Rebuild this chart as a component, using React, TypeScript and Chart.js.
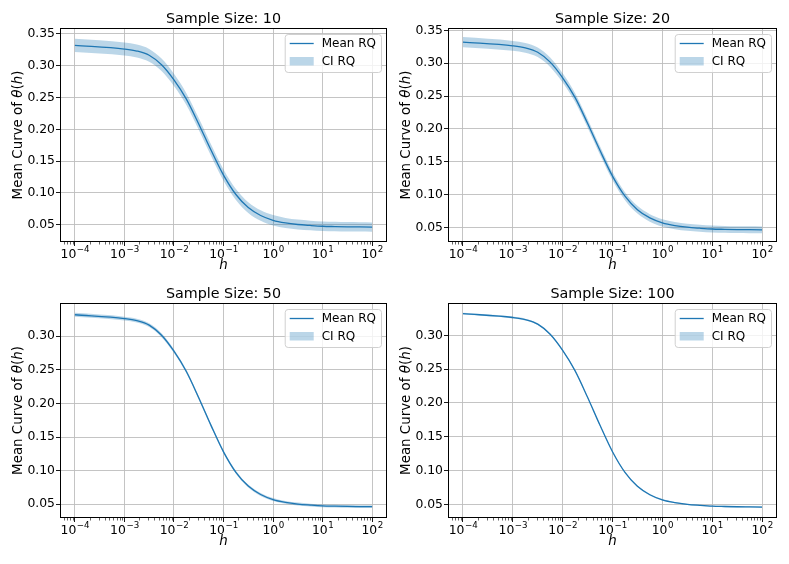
import React, { useEffect, useRef } from 'react';
import { Chart, registerables } from 'chart.js';

Chart.register(...registerables);

const FONT = '"DejaVu Sans", sans-serif';
Chart.defaults.font.family = FONT;

// bandwidth grid h (log spaced)
const hValues = [
  0.0001, 0.001, 0.00178, 0.00316, 0.00562, 0.01, 0.0178, 0.0316, 0.0562, 0.1, 0.178,
  0.316, 0.562, 1, 1.78, 3.16, 5.62, 10, 17.8, 31.6, 56.2, 100,
];

// mean curve of theta(h), same for every sample size
const meanRQ = [
  0.332, 0.3263, 0.3232, 0.3165, 0.3015, 0.2777, 0.2475, 0.2085, 0.167, 0.128, 0.0975,
  0.077, 0.0645, 0.057, 0.0528, 0.0503, 0.0488, 0.0476, 0.0471, 0.0467, 0.0465, 0.0463,
];

// half width of the confidence band per sample size
const ci10 = [
  0.0104, 0.0102, 0.0101, 0.01, 0.0098, 0.0096, 0.0094, 0.0092, 0.009, 0.0088, 0.0086,
  0.0084, 0.0082, 0.0081, 0.0079, 0.0077, 0.0076, 0.0075, 0.0074, 0.0074, 0.0073, 0.0073,
];
const ci20 = [
  0.0077, 0.0075, 0.0074, 0.0073, 0.0072, 0.007, 0.0068, 0.0066, 0.0064, 0.0062, 0.006,
  0.0058, 0.0057, 0.0056, 0.0055, 0.0054, 0.0053, 0.0053, 0.0052, 0.0052, 0.0052, 0.0052,
];
const ci50 = [
  0.003, 0.0029, 0.0029, 0.0028, 0.0028, 0.0027, 0.0026, 0.0025, 0.0024, 0.0023, 0.0023,
  0.0022, 0.0022, 0.0021, 0.0021, 0.0021, 0.002, 0.002, 0.002, 0.002, 0.002, 0.002,
];
const ci100 = [
  0.0014, 0.0014, 0.0014, 0.0013, 0.0013, 0.0013, 0.0012, 0.0012, 0.0012, 0.0012, 0.0011,
  0.0011, 0.0011, 0.0011, 0.001, 0.001, 0.001, 0.001, 0.001, 0.001, 0.001, 0.001,
];

const sampleSizes = [10, 20, 50, 100];
const ciBands = [ci10, ci20, ci50, ci100];
const yMins = [0.0228, 0.0278, 0.0295, 0.0301];
const yMaxs = [0.3594, 0.3535, 0.3495, 0.3477];
const yTickValues = [0.05, 0.1, 0.15, 0.2, 0.25, 0.3, 0.35];
const xDecades = [-4, -3, -2, -1, 0, 1, 2];

const isDecade = (v: number) => Math.abs(Math.log10(v) - Math.round(Math.log10(v))) < 1e-6;

const decor = {
  id: 'decor',
  afterDraw(chart: any, _args: any, opts: any) {
    const { ctx, chartArea: a } = chart;
    const xs = chart.scales.x;
    const cx = (a.left + a.right) / 2;
    const cy = (a.top + a.bottom) / 2;
    ctx.save();

    // minor ticks on the log axis
    ctx.strokeStyle = '#000';
    ctx.lineWidth = 0.6;
    xs.ticks.forEach((t: any) => {
      if (isDecade(t.value)) return;
      const px = Math.round(xs.getPixelForValue(t.value)) + 0.5;
      ctx.beginPath();
      ctx.moveTo(px, a.bottom);
      ctx.lineTo(px, a.bottom + 2.5);
      ctx.stroke();
    });

    // axes frame
    ctx.lineWidth = 1;
    ctx.strokeRect(Math.round(a.left) + 0.5, Math.round(a.top) + 0.5,
      Math.round(a.right - a.left) - 1, Math.round(a.bottom - a.top) - 1);

    ctx.fillStyle = '#000';
    // x tick labels 10^k with raised exponent
    ctx.textBaseline = 'alphabetic';
    ctx.textAlign = 'left';
    xDecades.forEach((e) => {
      const px = xs.getPixelForValue(10 ** e);
      const exp = String(e).replace('-', '\u2212');
      ctx.font = `12.4px ${FONT}`;
      const wb = ctx.measureText('10').width;
      ctx.font = `8.7px ${FONT}`;
      const we = ctx.measureText(exp).width;
      const x0 = px - (wb + we) / 2;
      ctx.font = `12.4px ${FONT}`;
      ctx.fillText('10', x0, a.bottom + 16);
      ctx.font = `8.7px ${FONT}`;
      ctx.fillText(exp, x0 + wb + 0.5, a.bottom + 10);
    });

    // title
    ctx.font = `14.3px ${FONT}`;
    ctx.textAlign = 'center';
    ctx.fillText(opts.title, cx, a.top - 5);

    // x label
    ctx.font = `italic 13.4px ${FONT}`;
    ctx.fillText('h', cx, a.bottom + 27);

    // y label with italic math parts
    const parts: [string, boolean][] = [
      ['Mean Curve of ', false], ['θ', true], ['(', false], ['h', true], [')', false],
    ];
    let total = 0;
    const widths = parts.map(([t, it]) => {
      ctx.font = `${it ? 'italic ' : ''}13.4px ${FONT}`;
      const w = ctx.measureText(t).width;
      total += w;
      return w;
    });
    ctx.translate(a.left - 41, cy);
    ctx.rotate(-Math.PI / 2);
    ctx.textAlign = 'left';
    ctx.textBaseline = 'middle';
    let x = -total / 2;
    parts.forEach(([t, it], i) => {
      ctx.font = `${it ? 'italic ' : ''}13.4px ${FONT}`;
      ctx.fillText(t, x, 0);
      x += widths[i];
    });
    ctx.setTransform(chart.currentDevicePixelRatio, 0, 0, chart.currentDevicePixelRatio, 0, 0);

    // legend
    ctx.font = `12px ${FONT}`;
    const tw = ctx.measureText('Mean RQ').width;
    const lw = 37 + tw + 5;
    const lh = 38;
    const bx = a.right - 6 - lw;
    const by = a.top + 6;
    ctx.beginPath();
    ctx.roundRect(bx + 0.5, by + 0.5, lw, lh, 3);
    ctx.fillStyle = 'rgba(255,255,255,0.8)';
    ctx.fill();
    ctx.strokeStyle = '#d0d0d0';
    ctx.lineWidth = 1;
    ctx.stroke();

    ctx.strokeStyle = '#1f77b4';
    ctx.lineWidth = 1.3;
    ctx.beginPath();
    ctx.moveTo(bx + 5, by + 9.5);
    ctx.lineTo(bx + 29, by + 9.5);
    ctx.stroke();
    ctx.fillStyle = 'rgba(31,119,180,0.3)';
    ctx.fillRect(bx + 5, by + 23, 24, 8.5);

    ctx.fillStyle = '#000';
    ctx.textAlign = 'left';
    ctx.textBaseline = 'middle';
    ctx.fillText('Mean RQ', bx + 37, by + 10);
    ctx.fillText('CI RQ', bx + 37, by + 28);

    ctx.restore();
  },
};

type Box = { l: number; t: number; r: number; b: number };

const Panel = ({ index, w, h, box }: { index: number; w: number; h: number; box: Box }) => {
  const ref = useRef<HTMLCanvasElement>(null);

  useEffect(() => {
    if (!ref.current) return;
    const ci = ciBands[index];
    const lower = hValues.map((x, i) => ({ x, y: meanRQ[i] - ci[i] }));
    const upper = hValues.map((x, i) => ({ x, y: meanRQ[i] + ci[i] }));
    const mean = hValues.map((x, i) => ({ x, y: meanRQ[i] }));

    const chart = new Chart(ref.current, {
      type: 'line',
      data: {
        datasets: [
          {
            label: 'lower', data: lower, borderWidth: 0, pointRadius: 0, fill: false,
            borderColor: 'transparent', cubicInterpolationMode: 'monotone',
          },
          {
            label: 'CI RQ', data: upper, borderWidth: 0, pointRadius: 0, fill: '-1',
            borderColor: 'transparent', backgroundColor: 'rgba(31,119,180,0.3)',
            cubicInterpolationMode: 'monotone',
          },
          {
            label: 'Mean RQ', data: mean, borderColor: '#1f77b4', borderWidth: 1.3,
            pointRadius: 0, fill: false, cubicInterpolationMode: 'monotone',
          },
        ],
      },
      options: {
        responsive: false,
        animation: false,
        events: [],
        layout: { padding: { left: 0, top: box.t, right: w - box.r, bottom: 0 } },
        plugins: {
          legend: { display: false },
          title: { display: false },
          tooltip: { enabled: false },
          decor: { title: `Sample Size: ${sampleSizes[index]}` },
        } as any,
        scales: {
          x: {
            type: 'logarithmic',
            min: 10 ** -4.3,
            max: 10 ** 2.3,
            border: { display: false },
            grid: {
              color: (c: any) => (isDecade(c.tick.value) ? '#bdbdbd' : 'transparent'),
              lineWidth: 0.9,
              tickColor: (c: any) => (isDecade(c.tick.value) ? '#000' : 'transparent'),
              tickLength: 4,
            },
            ticks: { autoSkip: false, maxRotation: 0, callback: () => '' },
            afterBuildTicks: (s: any) => {
              const t: any[] = [];
              for (let e = -5; e <= 2; e++) {
                for (let m = 1; m <= 9; m++) {
                  const v = m * 10 ** e;
                  if (v >= s.min && v <= s.max) t.push({ value: v });
                }
              }
              s.ticks = t;
            },
            afterFit: (s: any) => {
              s.height = h - box.b;
              s.paddingLeft = 0;
              s.paddingRight = 0;
            },
          },
          y: {
            type: 'linear',
            min: yMins[index],
            max: yMaxs[index],
            border: { display: false },
            grid: { color: '#bdbdbd', lineWidth: 0.9, tickColor: '#000', tickLength: 4 },
            ticks: {
              padding: 1,
              color: '#000',
              font: { size: 12.4 },
              callback: (v: any) => Number(v).toFixed(2),
            },
            afterBuildTicks: (s: any) => {
              s.ticks = yTickValues.filter((v) => v >= s.min && v <= s.max).map((value) => ({ value }));
            },
            afterFit: (s: any) => {
              s.width = box.l;
              s.paddingTop = 0;
              s.paddingBottom = 0;
            },
          },
        },
      },
      plugins: [decor],
    });

    return () => chart.destroy();
  }, [index, w, h, box]);

  return <canvas ref={ref} width={w} height={h} />;
};

const panels = [
  { x: 0, y: 0, w: 394, h: 282, box: { l: 60, t: 28, r: 387, b: 242 } },
  { x: 394, y: 0, w: 395, h: 282, box: { l: 54, t: 28, r: 383, b: 242 } },
  { x: 0, y: 282, w: 394, h: 282, box: { l: 60, t: 21, r: 387, b: 236 } },
  { x: 394, y: 282, w: 395, h: 282, box: { l: 54, t: 21, r: 383, b: 236 } },
];

export default function App() {
  return (
    <div style={{ position: 'fixed', left: 0, top: 0, width: 789, height: 564, background: '#fff' }}>
      {panels.map((p, i) => (
        <div key={i} style={{ position: 'absolute', left: p.x, top: p.y, width: p.w, height: p.h }}>
          <Panel index={i} w={p.w} h={p.h} box={p.box} />
        </div>
      ))}
    </div>
  );
}
